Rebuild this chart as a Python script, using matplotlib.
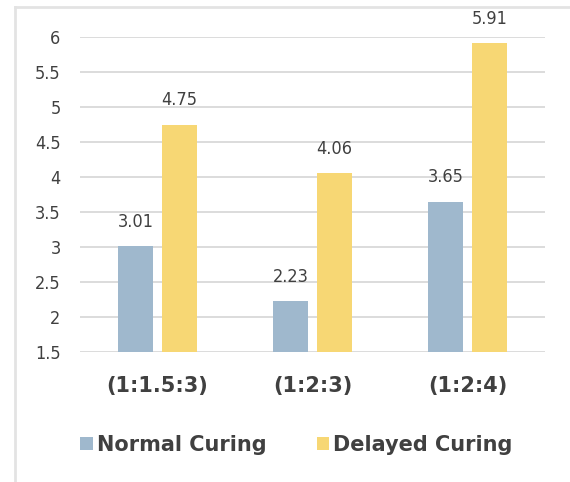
import numpy as np
import matplotlib.pyplot as plt
from matplotlib.lines import Line2D

mixes = ['(1:1.5:3)', '(1:2:3)', '(1:2:4)']
normal_curing = [3.01, 2.23, 3.65]
delayed_curing = [4.75, 4.06, 5.91]
yticks = [1.5, 2, 2.5, 3, 3.5, 4, 4.5, 5, 5.5, 6]

blue = '#9fb8cd'
yellow = '#f7d774'
text_col = '#404040'

fig = plt.figure(figsize=(5.7, 4.82), dpi=100)
ax = fig.add_axes([0.1404, 0.2697, 0.8156, 0.6535])

# light frame on the left and top
fx, fy = 15 / 570, 1 - 7 / 482
fig.lines.append(Line2D([fx, fx], [0, fy], transform=fig.transFigure,
                        color='#e3e3e3', linewidth=2))
fig.lines.append(Line2D([fx, 1], [fy, fy], transform=fig.transFigure,
                        color='#e3e3e3', linewidth=2))

x = np.arange(len(mixes))
w = 0.226
off = 0.142
b1 = ax.bar(x - off, [v - 1.5 for v in normal_curing], w, bottom=1.5,
            color=blue, label='Normal Curing', zorder=3)
b2 = ax.bar(x + off, [v - 1.5 for v in delayed_curing], w, bottom=1.5,
            color=yellow, label='Delayed Curing', zorder=3)

for xs, vals in ((x - off, normal_curing), (x + off, delayed_curing)):
    for xi, v in zip(xs, vals):
        ax.annotate(f'{v:.2f}', (xi, v), xytext=(0, 11), textcoords='offset points',
                    ha='center', va='bottom', fontsize=13, color=text_col,
                    fontstretch='condensed')

ax.set_xlim(-0.5, 2.5)
ax.set_ylim(1.5, 6)
ax.set_yticks(yticks)
ax.set_yticklabels([f'{t:g}' for t in yticks], fontsize=13, color=text_col,
                   fontstretch='condensed')
ax.set_xticks(x)
ax.set_xticklabels(mixes, fontsize=15, fontweight='bold', color=text_col)
ax.tick_params(axis='y', length=0, pad=14)
ax.tick_params(axis='x', length=0, pad=17)
ax.grid(axis='y', color='#d9d9d9', linewidth=1.3, zorder=0)
for s in ax.spines.values():
    s.set_visible(False)

fig.legend(handles=[b1, b2], loc='center', bbox_to_anchor=(0.52, 1 - 445 / 482),
           ncol=2, frameon=False, prop={'size': 15, 'weight': 'bold'},
           labelcolor=text_col, handlelength=0.6, handleheight=0.6,
           handletextpad=0.2, columnspacing=2.4)

fig.savefig('out.png', dpi=100)
